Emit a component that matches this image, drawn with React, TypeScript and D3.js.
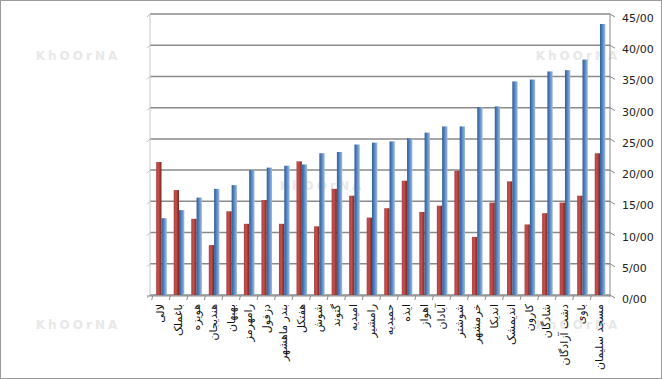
import React from "react";
import * as d3 from "d3";

const categories = [
  "لالی", "باغملک", "هویزه", "هندیجان", "بهبهان", "رامهرمز", "دزفول", "بندر ماهشهر",
  "هفتکل", "شوش", "گتوند", "امیدیه", "رامشیر", "حمیدیه", "ایذه", "اهواز", "آبادان",
  "شوشتر", "خرمشهر", "اندیکا", "اندیمشک", "کارون", "شادگان", "دشت آزادگان", "باوی", "مسجد سلیمان",
];
const redValues = [21.3, 16.8, 12.2, 8.0, 13.4, 11.4, 15.2, 11.4, 21.4, 11.0, 17.0, 15.9, 12.4, 13.9, 18.3, 13.3, 14.3, 19.9, 9.3, 14.8, 18.2, 11.3, 13.1, 14.8, 15.9, 22.7];
const blueValues = [12.3, 13.6, 15.6, 17.0, 17.6, 20.0, 20.4, 20.7, 20.9, 22.7, 22.9, 24.1, 24.4, 24.6, 25.1, 26.0, 27.0, 27.0, 30.1, 30.2, 34.2, 34.5, 35.8, 36.0, 37.7, 43.4];
const yTicks = [0, 5, 10, 15, 20, 25, 30, 35, 40, 45];
const tickLabel = (v: number) => `${v}/00`;
const watermarks = [
  { x: 78, y: 60 }, { x: 578, y: 60 }, { x: 78, y: 329 }, { x: 578, y: 329 }, { x: 322, y: 190 },
];

export default function App() {
  const W = 662, H = 379;
  const wallL = 150, wallR = 610, wallTop = 14, floorY = 295;
  const x = d3.scaleBand<string>().domain(categories).range([152.7, 608.8]);
  const y = d3.scaleLinear().domain([0, 45]).range([floorY, wallTop]);
  const bw = 5.3;

  return (
    <svg width={W} height={H} style={{ position: "absolute", left: 0, top: 0, background: "#fff" }}>
      <defs>
        <linearGradient id="gRed" x1="0" x2="1" y1="0" y2="0">
          <stop offset="0" stopColor="#B2433F" />
          <stop offset="0.45" stopColor="#C0504D" />
          <stop offset="1" stopColor="#7A2522" />
        </linearGradient>
        <linearGradient id="gBlue" x1="0" x2="1" y1="0" y2="0">
          <stop offset="0" stopColor="#2F5C95" />
          <stop offset="0.4" stopColor="#4F81BD" />
          <stop offset="1" stopColor="#9DBBE0" />
        </linearGradient>
      </defs>
      <rect x={0.5} y={0.5} width={W - 1} height={H - 1} fill="#fff" stroke="#9a9a9a" />
      {watermarks.map((w, i) => (
        <text key={i} x={w.x} y={w.y} textAnchor="middle" fontFamily="DejaVu Sans" fontWeight="bold"
          fontSize={12} letterSpacing={3} fill="#e8e8e8">KhOOrNA</text>
      ))}
      {yTicks.map((t) => (
        <g key={t}>
          <line x1={wallL} x2={wallR} y1={y(t)} y2={y(t)} stroke="#8a8a8a" strokeWidth={1.5} />
          <line x1={wallL - 3} x2={wallL} y1={y(t) + 3} y2={y(t)} stroke="#bdbdbd" strokeWidth={1} />
          <line x1={wallR} x2={wallR + 5} y1={y(t)} y2={y(t) + 3} stroke="#8a8a8a" strokeWidth={1} />
          <text x={622} y={y(t) + 8} fontFamily="DejaVu Sans" fontSize={11} fill="#222">{tickLabel(t)}</text>
        </g>
      ))}
      <line x1={wallL} x2={wallL} y1={wallTop} y2={floorY} stroke="#c8c8c8" strokeWidth={1} />
      <line x1={wallR} x2={wallR} y1={wallTop} y2={floorY + 2} stroke="#8a8a8a" strokeWidth={1} />
      {categories.map((c, i) => {
        const cx = (x(c) as number) + x.bandwidth() / 2;
        return (
          <g key={c}>
            <rect x={cx - bw} y={y(redValues[i])} width={bw} height={floorY - y(redValues[i])} fill="url(#gRed)" />
            <rect x={cx} y={y(blueValues[i])} width={bw} height={floorY - y(blueValues[i])} fill="url(#gBlue)" />
          </g>
        );
      })}
      <line x1={wallL - 3} x2={wallR} y1={floorY + 1} y2={floorY + 1} stroke="#8a8a8a" strokeWidth={1.2} />
      {categories.map((c, i) => {
        const bx = x(c) as number;
        return <line key={"t" + i} x1={bx} x2={bx - 1} y1={floorY + 1} y2={floorY + 5} stroke="#8a8a8a" strokeWidth={1} />;
      })}
      {categories.map((c) => {
        const cx = (x(c) as number) + x.bandwidth() / 2;
        return (
          <text key={"l" + c} transform={`translate(${cx},${floorY + 9}) rotate(-90)`} textAnchor="end"
            dominantBaseline="middle" fontFamily="DejaVu Sans" fontSize={11} fill="#111">{c}</text>
        );
      })}
    </svg>
  );
}
